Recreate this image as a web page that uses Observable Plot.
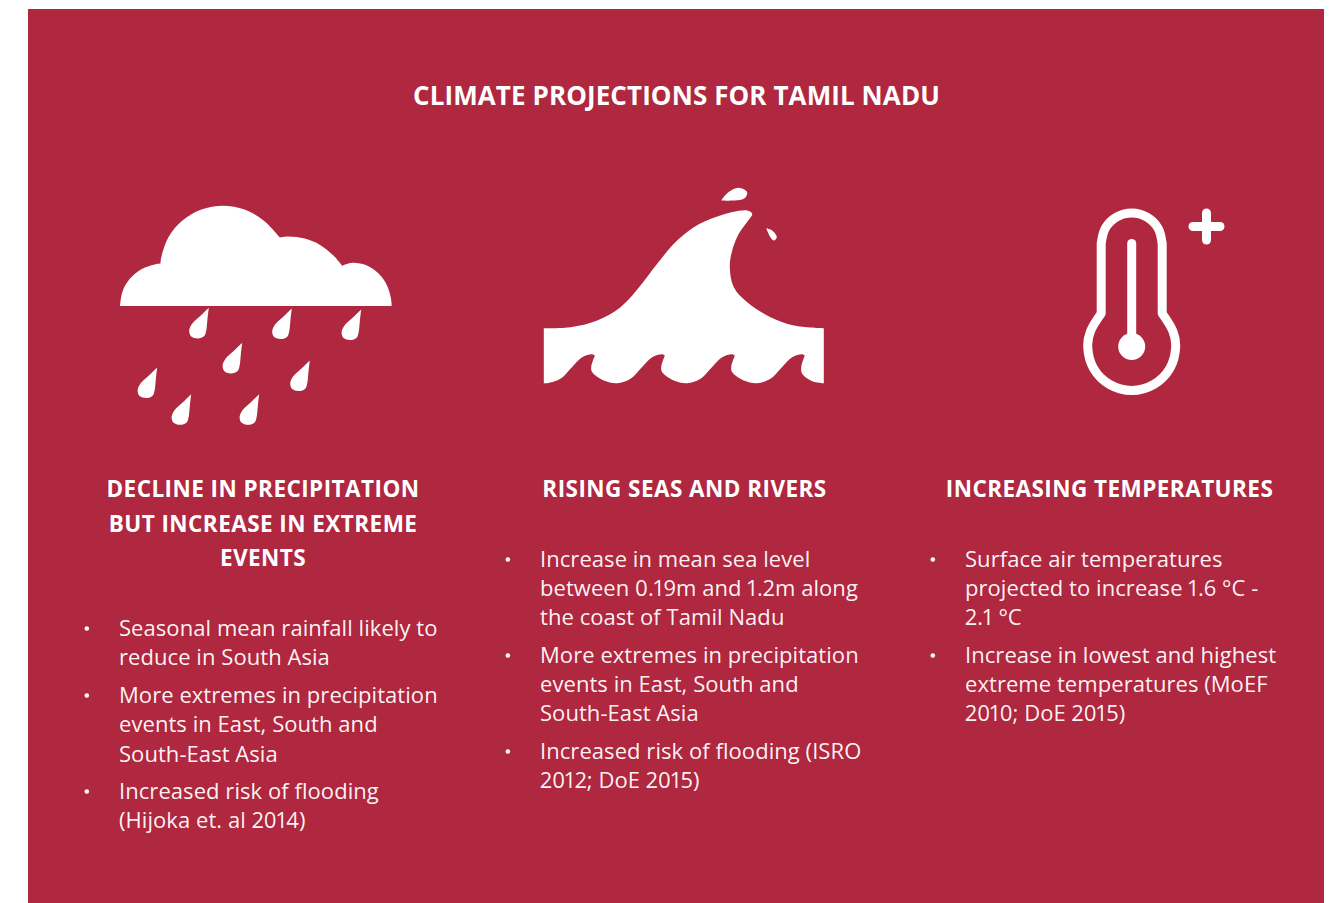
<!DOCTYPE html>
<html><head><meta charset="utf-8">
<style>html,body{margin:0;padding:0;background:#fff;overflow:hidden}
.head text{letter-spacing:.45px}
.bodytext text{letter-spacing:.06px;font-variant-numeric:proportional-nums}
.ttl text{letter-spacing:.1px}
</style>
<script src="https://cdn.jsdelivr.net/npm/d3@7"></script>
<script src="https://cdn.jsdelivr.net/npm/@observablehq/plot@0.6"></script>
</head><body><script>
const RED = "#b02740";
const title = "CLIMATE PROJECTIONS FOR TAMIL NADU";
const headings = [
  ["DECLINE IN PRECIPITATION", 262.5, 489],
  ["BUT INCREASE IN EXTREME", 262.5, 524],
  ["EVENTS", 262.5, 558],
  ["RISING SEAS AND RIVERS", 684, 489],
  ["INCREASING TEMPERATURES", 1109, 489]
];
const bodyCol1 = [
  ["Seasonal mean rainfall likely to", 628, 1],
  ["reduce in South Asia", 657, 0],
  ["More extremes in precipitation", 695, 1],
  ["events in East, South and", 724, 0],
  ["South-East Asia", 754, 0],
  ["Increased risk of flooding", 791, 1],
  ["(Hijoka et. al 2014)", 820, 0]
];
const bodyCol2 = [
  ["Increase in mean sea level", 559, 1],
  ["between 0.19m and 1.2m along", 588, 0],
  ["the coast of Tamil Nadu", 617, 0],
  ["More extremes in precipitation", 655, 1],
  ["events in East, South and", 684, 0],
  ["South-East Asia", 713, 0],
  ["Increased risk of flooding (ISRO", 751, 1],
  ["2012; DoE 2015)", 780, 0]
];
const bodyCol3 = [
  ["Surface air temperatures", 559, 1],
  ["projected to increase 1.6 °C -", 588, 0],
  ["2.1 °C", 617, 0],
  ["Increase in lowest and highest", 655, 1],
  ["extreme temperatures (MoEF", 684, 0],
  ["2010; DoE 2015)", 713, 0]
];
const cloud = [[119.5,305.5],[119.5,305.5],[122,291],[129.3,278.3],[140.5,268.9],[154.2,263.9],[160,263],[160,263],
  [160.6,257.5],[167.8,236.9],[181.9,220.1],[200.9,209.1],[222.5,205.3],[244.1,209.1],[263.1,220.1],[279.3,237],[279.3,237],
  [288,236],[304.3,238.1],[319.5,244.4],[332.5,254.5],[341.7,265.3],[341.7,265.3],
  [352,262.3],[365.3,264.6],[377,272],[385.8,283.5],[390.4,297.5],[391.2,305.5],[391.2,305.5],[119.5,305.5],[119.5,305.5]];
const dropTips = [[208.3,307.3],[291.3,308],[360.7,309],[241.7,342.3],[309.3,360],[156.7,367],[190.7,393.7],[258.7,393.7]];
const dropOutline = [[0,0],[0,0],[-8.3,8],[-16.7,16],[-19.6,23],[-17.6,28.6],[-11,30.6],[-4.6,28.2],[-2.6,23],[-1.3,11],[0,0],[0,0]];
const waveTop = [[543.3,327.7],[543.3,327.7],[570,326.7],[596.7,320],[620,306.7],[640,285],[656.7,263.3],[673.3,243.3],[693.3,226.7],[716.7,216],
  [746.7,210],[751.7,213.3],[748.3,219.3],[738.3,233.3],[731.7,250],[729.3,266.7],[733.3,286.7],[746.7,301.7],[770,316.7],[793.3,325],[823.3,327.7],[823.3,327.7],
  [823.3,382.7],[823.3,382.7],[811.7,380.7],[801.7,373.3]];
const waveCycle = [[800.7,366.7],[804.3,355],[804.3,355],[801.7,353.7],[791.7,356.7],[780,368.3],[770,378.3],[756.7,382.7],[743.3,380],[731.7,371.7]];
const waveOffsets = [0, -70, -140, -210];
const waveEnd = [[543.3,382.7],[543.3,382.7],[543.3,327.7],[543.3,327.7]];
const splashTop = [[720.7,200],[720.7,200],[726.7,192.7],[738.3,187.3],[746.7,191.7],[743.3,198.3],[720.7,200],[720.7,200]];
const splashSmall = [[765.7,227.7],[765.7,227.7],[771.7,230],[776.3,236.7],[773.3,240],[770,236.7],[765.7,227.7],[765.7,227.7]];
const thermoOutline = [[1100.7,313],[1100.7,313],[1100.7,243],[1100.7,243],[1104.8,227.7],[1115.9,216.6],[1131.2,212.5],[1146.5,216.6],[1157.6,227.7],[1161.7,243],[1161.7,243],[1161.7,313],[1161.7,313],
  [1172.5,331],[1175.2,346],[1169.3,368],[1153.2,384],[1131.2,390],[1109.2,384],[1093.1,368],[1087.2,346],[1089.9,331],[1100.7,313],[1100.7,313]];
const thermoStem = [[1131.2,243],[1131.2,346]];
const thermoBulb = [[1131.2,346]];
const plusH = [[1192.5,226],[1219.5,226]];
const plusV = [[1206,212.5],[1206,239.5]];

const shapes = [];
const add = (pts, id) => pts.forEach(([x,y]) => shapes.push({x,y,id}));
add(cloud,"cloud");
dropTips.forEach(([tx,ty],i) => add(dropOutline.map(([dx,dy]) => [tx+dx,ty+dy]), "drop"+i));
add(waveTop.concat(
  waveOffsets.flatMap(o => waveCycle.map(([x,y]) => [x+o,y])).filter(([x]) => x > 546),
  waveEnd), "wave");
add(splashTop,"s1"); add(splashSmall,"s2");

const toRow = (x) => ([text,y,b]) => ({text,x,y,b});
const body = [...bodyCol1.map(toRow(118.5)), ...bodyCol2.map(toRow(539.5)), ...bodyCol3.map(toRow(964.5))];
const pt = d => ({x:d[0],y:d[1]});
const lineOpts = {x:"x",y:"y",stroke:"white",strokeWidth:9,strokeLinecap:"round",strokeLinejoin:"round"};

const chart = Plot.plot({
  width:1331, height:903, margin:0,
  x:{axis:null,domain:[0,1331],range:[0,1331]},
  y:{axis:null,domain:[0,903],range:[0,903]},
  style:{fontFamily:'"Open Sans"',background:"white"},
  marks:[
    Plot.rect([{a:28,b:1324,c:9,d:903}],{x1:"a",x2:"b",y1:"c",y2:"d",fill:RED}),
    Plot.line(shapes,{x:"x",y:"y",z:"id",fill:"white",stroke:"none",curve:"catmull-rom"}),
    Plot.line(thermoOutline.map(pt),{...lineOpts,curve:"catmull-rom"}),
    Plot.line(thermoStem.map(pt),lineOpts),
    Plot.line(plusH.map(pt),lineOpts),
    Plot.line(plusV.map(pt),lineOpts),
    Plot.dot(thermoBulb.map(pt),{x:"x",y:"y",r:13.5,fill:"white"}),
    Plot.text([title],{x:()=>676,y:()=>96,text:d=>d,fill:"white",fontSize:26,fontWeight:700,textAnchor:"middle",className:"ttl"}),
    Plot.text(headings,{x:d=>d[1],y:d=>d[2],text:d=>d[0],fill:"white",fontSize:22.5,fontWeight:700,textAnchor:"middle",className:"head"}),
    Plot.text(body,{x:"x",y:"y",text:"text",fill:"white",fillOpacity:0.96,fontSize:22,fontWeight:400,textAnchor:"start",className:"bodytext"}),
    Plot.dot(body.filter(d=>d.b),{x:d=>d.x-32.2,y:"y",r:2.3,fill:"white"})
  ]
});
document.body.appendChild(chart);
</script></body></html>
